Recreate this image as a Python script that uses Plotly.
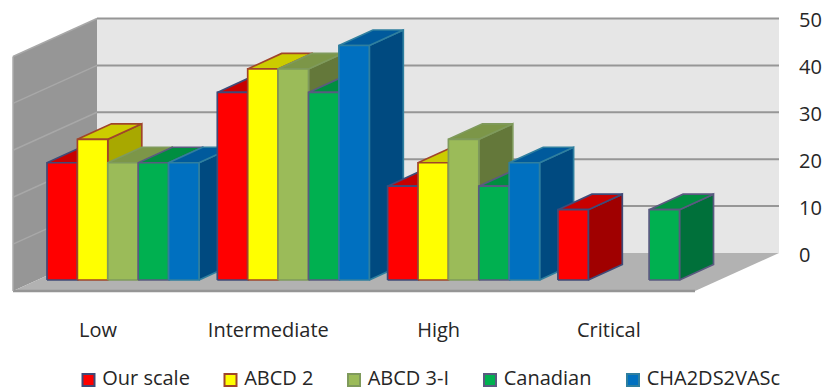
import plotly.graph_objects as go

# Percentages per risk class
categories = ["Low", "Intermediate", "High", "Critical"]
our_scale = [25, 40, 20, 15]
abcd2 = [30, 45, 25, 0]
abcd3_i = [25, 45, 30, 0]
canadian = [25, 40, 20, 15]
cha2ds2vasc = [25, 50, 25, 0]
value_ticks = [0, 10, 20, 30, 40, 50]

series = [
    ("Our scale", our_scale, "#FF0000", "#A00000", "#C80000", "#3F4A78"),
    ("ABCD 2", abcd2, "#FFFF00", "#A8A800", "#CCCC00", "#A0452A"),
    ("ABCD 3-I", abcd3_i, "#9BBB59", "#64783A", "#7C9648", "#7F9A5C"),
    ("Canadian", canadian, "#00B050", "#00703A", "#008E40", "#5A5A80"),
    ("CHA2DS2VASc", cha2ds2vasc, "#0070C0", "#004A80", "#005A9C", "#2F7F9F"),
]

# Canvas scale: one category step and one value unit, in screen pixels
W, H = 826, 391
STEP_PX = 170.3
UNIT_PX = 4.69
ORIGIN_X_PX = 123
ORIGIN_Y_PX = 280
FONT = dict(family="Open Sans", size=20, color="#262626")


def sx(px):
    return (px - ORIGIN_X_PX) / STEP_PX


def sy(px):
    return (ORIGIN_Y_PX - px) / UNIT_PX


BAR_W = 30.4 / STEP_PX
DEPTH_X = 34 / STEP_PX
DEPTH_Y = 15.5 / UNIT_PX
WALL_X0, WALL_X1 = sx(97), sx(779)
FRONT_X0, FRONT_X1 = sx(13), sx(695)
WALL_BASE = sy(253)
FRONT_BASE = sy(291)
UNITS_TOP = 50

fig = go.Figure()


def poly(xs, ys, fill, line=None, width=1.7):
    fig.add_trace(go.Scatter(
        x=xs + xs[:1], y=ys + ys[:1], mode="lines", fill="toself",
        fillcolor=fill, line=dict(color=line or fill, width=width),
        hoverinfo="skip", showlegend=False,
    ))


def rule(xs, ys, color, width):
    fig.add_trace(go.Scatter(
        x=xs, y=ys, mode="lines", line=dict(color=color, width=width),
        hoverinfo="skip", showlegend=False,
    ))


# Chart box: back wall, side wall, floor
top = WALL_BASE + UNITS_TOP
poly([WALL_X0, WALL_X1, WALL_X1, WALL_X0], [WALL_BASE, WALL_BASE, top, top], "#E6E6E6", width=0)
poly([FRONT_X0, WALL_X0, WALL_X0, FRONT_X0],
     [FRONT_BASE, WALL_BASE, top, FRONT_BASE + UNITS_TOP], "#969696", width=0)
poly([FRONT_X0, FRONT_X1, WALL_X1, WALL_X0],
     [FRONT_BASE, FRONT_BASE, WALL_BASE, WALL_BASE], "#B2B2B2", width=0)
rule([FRONT_X0, FRONT_X1], [FRONT_BASE, FRONT_BASE], "#959595", 2.5)
rule([FRONT_X0, FRONT_X0], [FRONT_BASE, FRONT_BASE + UNITS_TOP], "#ABABAB", 1.5)

for v in value_ticks[1:]:
    rule([FRONT_X0, WALL_X0], [FRONT_BASE + v, WALL_BASE + v], "#A8A8A8", 1.5)
    rule([WALL_X0, WALL_X1], [WALL_BASE + v, WALL_BASE + v], "#969696", 2)

# Extruded bars, painted left to right so nearer neighbours overlap correctly
first = (47 + 152 / 2 - ORIGIN_X_PX) / STEP_PX
for c in range(len(categories)):
    for s, (name, vals, front, side, cap, edge) in enumerate(series):
        v = vals[c]
        if v == 0:
            continue
        x0 = c + first - 2.5 * BAR_W + s * BAR_W
        x1 = x0 + BAR_W
        poly([x1, x1 + DEPTH_X, x1 + DEPTH_X, x1], [0, DEPTH_Y, v + DEPTH_Y, v], side, edge)
        poly([x0, x1, x1 + DEPTH_X, x0 + DEPTH_X], [v, v, v + DEPTH_Y, v + DEPTH_Y], cap, edge)
        poly([x0, x1, x1, x0], [0, 0, v, v], front, edge)

# Legend row: a framed swatch followed by its label
legend_px = [88.5, 230.5, 354, 490, 633]
for (name, vals, front, side, cap, edge), px in zip(series, legend_px):
    fig.add_trace(go.Scatter(
        x=[sx(px)], y=[sy(380)], mode="markers+text", text=["\u00a0" + name],
        textposition="middle right", textfont=FONT, cliponaxis=False,
        marker=dict(symbol="square", size=12, color=front, line=dict(color=edge, width=2)),
        hoverinfo="skip", showlegend=False,
    ))

# Carrier for the right-hand value axis
fig.add_trace(go.Scatter(x=[None], y=[None], yaxis="y2", showlegend=False, hoverinfo="skip"))

y_range = [sy(H), sy(0)]
axis_shift = WALL_BASE - 0.35
fig.update_layout(
    width=W, height=H, margin=dict(l=0, r=0, t=0, b=0),
    paper_bgcolor="white", plot_bgcolor="white", showlegend=False,
    xaxis=dict(
        range=[sx(0), sx(W)], showgrid=False, zeroline=False, showline=False,
        tickmode="array", tickvals=[i - 25 / STEP_PX for i in range(len(categories))],
        ticktext=categories, ticks="", anchor="free", position=(H - 316) / H,
        tickfont=FONT,
    ),
    yaxis=dict(range=y_range, visible=False, fixedrange=True),
    yaxis2=dict(
        range=[y_range[0] - axis_shift, y_range[1] - axis_shift], overlaying="y", side="right",
        anchor="free", position=798 / W, tickmode="array", tickvals=value_ticks,
        showgrid=False, zeroline=False, showline=False, ticks="",
        tickfont=FONT,
    ),
)

fig.write_html("out.html")
